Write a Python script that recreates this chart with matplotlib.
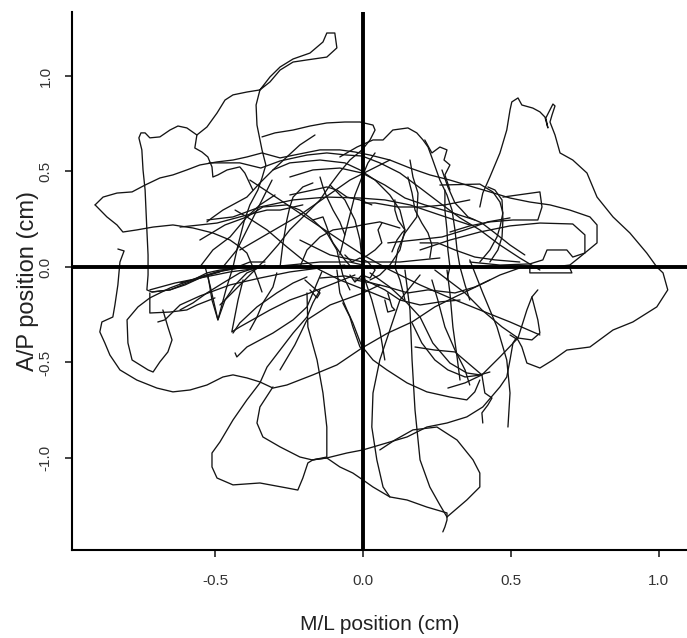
import matplotlib
matplotlib.use("Agg")
import matplotlib.pyplot as plt

# ---- axis ticks / labels ----
x_ticks = [-0.5, 0.0, 0.5, 1.0]
x_tick_labels = ["-0.5", "0.0", "0.5", "1.0"]
y_ticks = [-1.0, -0.5, 0.0, 0.5, 1.0]
y_tick_labels = ["-1.0", "-0.5", "0.0", "0.5", "1.0"]
x_label = "M/L position (cm)"
y_label = "A/P position (cm)"

# ---- centre-of-pressure trace (cm) ----
s01_x = [-0.372,-0.399,-0.416,-0.459,-0.490,-0.507,-0.510,-0.524,-0.544,-0.568,-0.561,-0.527,-0.493,-0.466,-0.439,-0.392,-0.348,-0.314,-0.280,-0.236,-0.179,-0.135,-0.122,-0.095,-0.088,-0.122,-0.189,-0.236,-0.280,-0.314,-0.348,-0.361,-0.358,-0.341,-0.328,-0.341,-0.355,-0.382,-0.402,-0.422,-0.439,-0.463,-0.490,-0.510,-0.524]
s01_y = [0.403,0.492,0.524,0.508,0.482,0.471,0.524,0.576,0.602,0.623,0.691,0.733,0.806,0.874,0.901,0.916,0.927,0.995,1.047,1.089,1.120,1.178,1.225,1.225,1.147,1.099,1.084,1.073,1.031,0.969,0.927,0.848,0.743,0.613,0.534,0.466,0.403,0.325,0.236,0.115,0.000,-0.120,-0.277,-0.173,-0.042]

s02_x = [-0.561,-0.595,-0.625,-0.652,-0.686,-0.720,-0.736,-0.750,-0.757,-0.747,-0.743,-0.736,-0.733,-0.730,-0.726,-0.726,-0.730,-0.713,-0.652,-0.601,-0.551,-0.493,-0.432,-0.382,-0.331]
s02_y = [0.691,0.728,0.738,0.717,0.681,0.676,0.702,0.702,0.676,0.613,0.508,0.403,0.298,0.194,0.063,-0.042,-0.120,-0.131,-0.120,-0.094,-0.058,-0.026,-0.005,0.026,0.026]

s03_x = [-0.905,-0.878,-0.831,-0.780,-0.736,-0.686,-0.642,-0.595,-0.551,-0.493,-0.439,-0.392,-0.341,-0.280,-0.213,-0.145,-0.078,-0.027,0.024,0.091,0.159,0.226,0.294,0.361,0.429,0.497,0.564,0.632,0.699,0.767,0.791,0.791,0.733,0.699,0.615,0.530]
s03_y = [0.325,0.366,0.387,0.393,0.429,0.466,0.482,0.508,0.534,0.550,0.560,0.576,0.597,0.571,0.592,0.613,0.613,0.602,0.586,0.560,0.518,0.482,0.455,0.424,0.393,0.361,0.340,0.325,0.298,0.262,0.220,0.126,0.052,0.010,-0.005,0.005]

s04_x = [-0.905,-0.865,-0.831,-0.811,-0.764,-0.709,-0.642,-0.574,-0.507,-0.449,-0.416,-0.392,-0.372,-0.355,-0.341]
s04_y = [0.325,0.262,0.220,0.183,0.194,0.209,0.220,0.204,0.178,0.141,0.105,0.073,0.000,-0.068,-0.131]

s05_x = [-0.341,-0.297,-0.236,-0.179,-0.122,-0.061,-0.010,0.034,0.041,0.024,-0.003,-0.044,-0.078,-0.111,-0.145,-0.196,-0.247,-0.287,-0.331,-0.382,-0.432,-0.483]
s05_y = [0.681,0.702,0.717,0.738,0.754,0.759,0.759,0.743,0.717,0.665,0.613,0.560,0.497,0.429,0.351,0.272,0.194,0.115,0.037,-0.042,-0.120,-0.199]

s06_x = [0.395,0.405,0.429,0.463,0.486,0.497,0.503,0.524,0.537,0.574,0.598,0.615,0.625,0.618,0.642,0.649,0.639,0.632,0.649,0.666,0.709,0.757,0.791,0.845,0.902,0.959,0.993,1.014,1.030,0.993,0.912,0.845,0.767,0.689,0.642,0.598,0.554,0.537,0.524,0.497]
s06_y = [0.314,0.387,0.471,0.597,0.717,0.822,0.864,0.885,0.848,0.832,0.812,0.785,0.728,0.780,0.853,0.843,0.796,0.759,0.691,0.597,0.560,0.492,0.366,0.262,0.178,0.073,0.000,-0.031,-0.120,-0.209,-0.288,-0.330,-0.419,-0.435,-0.487,-0.529,-0.503,-0.419,-0.382,-0.356]

s07_x = [0.260,0.395,0.439,0.463,0.473,0.463,0.453,0.429,0.395]
s07_y = [0.429,0.434,0.393,0.340,0.283,0.209,0.157,0.089,0.026]

s08_x = [0.473,0.598,0.605,0.591,0.507,0.429,0.361,0.294]
s08_y = [0.366,0.393,0.314,0.246,0.246,0.236,0.215,0.183]

s09_x = [0.193,0.294,0.395,0.497,0.598,0.709,0.750,0.750,0.709,0.689,0.622,0.608,0.564,0.463,0.361]
s09_y = [0.089,0.141,0.183,0.215,0.230,0.225,0.168,0.073,0.052,0.089,0.089,0.037,0.016,0.010,0.026]

s10_x = [0.564,0.699,0.706,0.564,0.564]
s10_y = [-0.005,-0.005,-0.031,-0.031,-0.005]

s11_x = [-0.078,-0.020,0.034,0.068,0.101,0.152,0.182,0.203,0.220,0.236,0.260,0.284,0.301,0.311,0.318,0.328,0.345,0.361]
s11_y = [0.576,0.628,0.665,0.665,0.717,0.728,0.702,0.665,0.628,0.560,0.455,0.377,0.298,0.194,0.089,0.000,-0.094,-0.173]

s12_x = [0.159,0.169,0.186,0.182,0.142,0.118,0.108,0.125,0.142]
s12_y = [0.560,0.471,0.387,0.262,0.178,0.089,0.000,-0.068,-0.173]

s13_x = [0.209,0.233,0.260,0.284,0.274,0.294,0.277,0.294]
s13_y = [0.665,0.597,0.628,0.613,0.560,0.534,0.482,0.403]

s14_x = [-0.520,-0.416,-0.345,-0.280,-0.189,-0.122,-0.054,-0.003,0.057,0.125,0.193,0.260,0.328,0.395,0.463,0.530,0.598]
s14_y = [0.545,0.545,0.518,0.555,0.586,0.597,0.586,0.581,0.545,0.492,0.414,0.335,0.257,0.194,0.115,0.047,-0.016]

s15_x = [-0.304,-0.247,-0.145,-0.061,-0.010,0.041,0.091,0.125,0.142,0.125,0.091,0.057,0.024]
s15_y = [0.508,0.545,0.560,0.545,0.508,0.455,0.377,0.298,0.194,0.089,0.010,-0.042,-0.068]

s16_x = [-0.247,-0.169,-0.078,-0.003,0.074,0.142,0.209,0.294,0.378]
s16_y = [0.471,0.508,0.518,0.492,0.429,0.361,0.325,0.288,0.246]

s17_x = [-0.527,-0.510,-0.473,-0.392,-0.348,-0.304,-0.257,-0.213,-0.162]
s17_y = [0.236,0.257,0.298,0.366,0.440,0.508,0.576,0.639,0.691]

s18_x = [-0.432,-0.392,-0.338,-0.257,-0.213,-0.169,-0.122,-0.088,-0.078,-0.068,-0.044]
s18_y = [0.298,0.262,0.314,0.325,0.298,0.246,0.178,0.089,0.021,-0.042,-0.120]

s19_x = [-0.551,-0.466,-0.392,-0.324,-0.257,-0.203,-0.145,-0.078,0.007,0.091]
s19_y = [0.141,0.220,0.262,0.194,0.105,0.037,-0.016,-0.068,-0.120,-0.173]

s20_x = [-0.527,-0.439,-0.348,-0.236,-0.122,-0.010,0.074,0.159,0.260,0.361]
s20_y = [0.246,0.262,0.314,0.351,0.366,0.361,0.351,0.325,0.272,0.220]

s21_x = [-0.382,-0.280,-0.179,-0.078,0.000,0.091,0.193,0.294,0.395,0.497,0.598]
s21_y = [0.455,0.351,0.246,0.141,0.063,-0.016,-0.094,-0.162,-0.225,-0.288,-0.356]

s22_x = [-0.111,-0.061,-0.027,-0.010,-0.003,0.007,0.030,0.057,0.074]
s22_y = [0.429,0.351,0.246,0.141,0.037,-0.068,-0.173,-0.330,-0.487]

s23_x = [-0.828,-0.807,-0.821,-0.828,-0.838,-0.845,-0.882,-0.889,-0.872,-0.855,-0.821,-0.764,-0.696,-0.642,-0.584,-0.527,-0.473,-0.439,-0.392,-0.348,-0.304,-0.257,-0.169,-0.088,-0.003,0.084,0.166,0.243,0.311,0.395,0.463,0.530]
s23_y = [0.094,0.084,0.026,-0.094,-0.199,-0.262,-0.288,-0.340,-0.398,-0.461,-0.539,-0.592,-0.634,-0.654,-0.644,-0.618,-0.576,-0.565,-0.581,-0.602,-0.634,-0.618,-0.565,-0.513,-0.424,-0.346,-0.288,-0.209,-0.157,-0.094,-0.042,-0.005]

s24_x = [-0.676,-0.659,-0.645,-0.659,-0.686,-0.709,-0.726,-0.780,-0.794,-0.797,-0.760,-0.720,-0.652,-0.551,-0.493,-0.416]
s24_y = [-0.225,-0.314,-0.382,-0.445,-0.497,-0.550,-0.539,-0.487,-0.398,-0.277,-0.209,-0.162,-0.110,-0.052,-0.026,-0.005]

s25_x = [-0.534,-0.517,-0.490,-0.466,-0.432,-0.392,-0.331]
s25_y = [0.005,-0.094,-0.277,-0.173,-0.094,-0.031,0.010]

s26_x = [-0.405,-0.422,-0.443,-0.416,-0.314,-0.247,-0.179,-0.095,-0.027]
s26_y = [-0.068,-0.173,-0.340,-0.314,-0.225,-0.173,-0.136,-0.084,-0.042]

s27_x = [-0.432,-0.426,-0.392,-0.304,-0.236,-0.189,-0.169,-0.155,-0.139]
s27_y = [-0.450,-0.471,-0.419,-0.346,-0.277,-0.209,-0.136,-0.084,-0.026]

s28_x = [-0.145,-0.169,-0.189,-0.236,-0.280,-0.324,-0.348,-0.392,-0.439,-0.483,-0.510,-0.510,-0.493,-0.439,-0.348,-0.257,-0.220,-0.203,-0.186,-0.169,-0.122,-0.078,-0.034,0.000,0.034,0.091,0.149,0.216,0.284,0.284,0.277,0.270]
s28_y = [-0.120,-0.188,-0.262,-0.346,-0.435,-0.524,-0.607,-0.696,-0.801,-0.916,-0.974,-1.047,-1.105,-1.141,-1.131,-1.157,-1.168,-1.105,-1.026,-1.010,-1.000,-1.047,-1.079,-1.115,-1.152,-1.204,-1.220,-1.257,-1.288,-1.325,-1.361,-1.387]

s29_x = [-0.304,-0.348,-0.358,-0.338,-0.280,-0.213,-0.172,-0.122,-0.054,0.000,0.057,0.149,0.216,0.284,0.351,0.405,0.463,0.486,0.497,0.507,0.520]
s29_y = [-0.628,-0.733,-0.817,-0.890,-0.942,-0.995,-1.010,-1.000,-0.974,-0.958,-0.932,-0.890,-0.838,-0.817,-0.785,-0.733,-0.628,-0.576,-0.487,-0.398,-0.367]

s30_x = [-0.189,-0.186,-0.155,-0.135,-0.122,-0.122,-0.169]
s30_y = [-0.136,-0.314,-0.487,-0.660,-0.838,-0.995,-1.010]

s31_x = [-0.068,-0.044,-0.034,-0.010,0.007,0.034,0.081,0.149,0.216,0.294,0.351,0.378,0.395]
s31_y = [-0.188,-0.262,-0.314,-0.419,-0.435,-0.487,-0.539,-0.607,-0.654,-0.681,-0.696,-0.654,-0.592]

s32_x = [0.024,0.091,0.149,0.193,0.236,0.294,0.351,0.395,0.429]
s32_y = [-0.031,-0.105,-0.188,-0.262,-0.398,-0.503,-0.555,-0.565,-0.550]

s33_x = [0.193,0.125,0.091,0.057,0.034,0.030,0.047,0.068,0.091]
s33_y = [-0.042,-0.173,-0.330,-0.487,-0.660,-0.838,-1.010,-1.152,-1.204]

s34_x = [0.142,0.159,0.166,0.176,0.193,0.226,0.260,0.284]
s34_y = [-0.016,-0.225,-0.487,-0.749,-1.010,-1.152,-1.246,-1.309]

s35_x = [0.284,0.294,0.304,0.318,0.328]
s35_y = [-0.016,-0.136,-0.314,-0.471,-0.592]

s36_x = [0.361,0.405,0.453,0.486,0.497,0.490]
s36_y = [0.037,-0.136,-0.314,-0.487,-0.660,-0.838]

s37_x = [0.284,0.351,0.395,0.395,0.372,0.318,0.250,0.169,0.108,0.057]
s37_y = [-1.309,-1.220,-1.152,-1.079,-1.010,-0.906,-0.838,-0.853,-0.906,-0.958]

s38_x = [0.243,0.287,0.345,0.402,0.470,0.524,0.571,0.598,0.591,0.571,0.591]
s38_y = [-0.016,-0.068,-0.136,-0.225,-0.314,-0.372,-0.382,-0.346,-0.277,-0.157,-0.120]

s39_x = [0.287,0.345,0.402,0.463,0.524,0.554,0.571]
s39_y = [-0.634,-0.607,-0.565,-0.471,-0.372,-0.225,-0.157]

s40_x = [0.402,0.412,0.436,0.422,0.402,0.405]
s40_y = [-0.565,-0.660,-0.686,-0.723,-0.764,-0.817]

s41_x = [0.176,0.243,0.311,0.402]
s41_y = [-0.419,-0.435,-0.445,-0.565]

s42_x = [-0.145,-0.061,0.007,0.074,0.125,0.193,0.260,0.328]
s42_y = [-0.058,-0.047,-0.068,-0.120,-0.173,-0.199,-0.183,-0.173]

s43_x = [-0.280,-0.230,-0.189,-0.111,0.000,0.057]
s43_y = [-0.539,-0.408,-0.277,-0.199,-0.136,-0.094]

s44_x = [-0.720,-0.635,-0.551,-0.449,-0.348,-0.247,-0.145,-0.044,0.000]
s44_y = [-0.120,-0.084,-0.058,-0.026,-0.005,0.010,0.026,0.026,0.010]

s45_x = [-0.720,-0.720,-0.652,-0.595,-0.561,-0.500]
s45_y = [-0.136,-0.241,-0.236,-0.225,-0.199,-0.162]

s46_x = [-0.693,-0.669,-0.618,-0.551,-0.449,-0.348,-0.247,-0.145,-0.061]
s46_y = [-0.288,-0.277,-0.199,-0.152,-0.094,-0.058,-0.026,-0.005,0.010]

s47_x = [-0.618,-0.551,-0.493,-0.392,-0.324,-0.280,-0.203]
s47_y = [0.209,0.220,0.230,0.272,0.298,0.298,0.325]

s48_x = [-0.551,-0.507,-0.449,-0.392,-0.348,-0.297]
s48_y = [0.000,0.089,0.157,0.262,0.325,0.377]

s49_x = [-0.473,-0.426,-0.392,-0.358,-0.324,-0.307]
s49_y = [0.000,0.089,0.194,0.298,0.403,0.455]

s50_x = [-0.280,-0.270,-0.257,-0.247,-0.236,-0.203,-0.169]
s50_y = [0.000,0.126,0.246,0.314,0.366,0.419,0.440]

s51_x = [-0.247,-0.169,-0.122,-0.088,-0.054,-0.010,0.030]
s51_y = [0.377,0.403,0.419,0.403,0.366,0.351,0.325]

s52_x = [-0.169,-0.135,-0.122,-0.111,-0.101,-0.084,-0.061,-0.037]
s52_y = [0.246,0.262,0.209,0.157,0.126,0.089,0.037,-0.005]

s53_x = [-0.145,-0.135,-0.122,-0.101,-0.078,-0.061]
s53_y = [0.471,0.419,0.366,0.298,0.236,0.168]

s54_x = [-0.213,-0.189,-0.145,-0.101,-0.034,-0.003,0.057,0.125]
s54_y = [0.000,0.089,0.157,0.194,0.209,0.220,0.236,0.204]

s55_x = [0.152,0.166,0.176,0.199,0.220,0.233,0.226]
s55_y = [0.471,0.387,0.298,0.230,0.178,0.115,0.047]

s56_x = [0.108,0.108,0.118,0.142,0.132,0.115,0.098]
s56_y = [0.351,0.298,0.246,0.194,0.178,0.141,0.079]

s57_x = [0.267,0.287,0.311,0.334,0.355,0.402,0.446,0.497,0.547]
s57_y = [0.508,0.419,0.335,0.298,0.262,0.230,0.178,0.115,0.063]

s58_x = [0.084,0.176,0.267,0.345,0.422,0.497]
s58_y = [0.126,0.141,0.157,0.194,0.236,0.257]

s59_x = [0.193,0.253,0.311,0.378,0.446,0.530]
s59_y = [0.126,0.126,0.089,0.052,0.037,0.026]

s60_x = [0.064,0.051,0.064,0.041,0.007]
s60_y = [0.230,0.194,0.126,0.089,0.052]

s61_x = [0.422,0.446,0.470,0.473,0.470,0.456,0.429]
s61_y = [0.419,0.403,0.351,0.246,0.157,0.089,0.026]

s62_x = [0.277,0.277,0.284,0.287,0.294,0.284]
s62_y = [0.403,0.298,0.194,0.089,0.000,-0.068]

s63_x = [-0.027,0.030,0.084,0.152,0.220,0.311,0.378,0.429]
s63_y = [-0.068,-0.084,-0.105,-0.136,-0.120,-0.136,-0.105,-0.068]

s64_x = [0.084,0.098,0.108,0.084,0.074]
s64_y = [-0.136,-0.209,-0.225,-0.236,-0.173]

s65_x = [0.233,0.253,0.277,0.311,0.345,0.361]
s65_y = [-0.068,-0.173,-0.314,-0.435,-0.539,-0.618]

s66_x = [0.166,0.199,0.243,0.287,0.345,0.402]
s66_y = [-0.293,-0.398,-0.487,-0.539,-0.576,-0.565]

s67_x = [-0.618,-0.574,-0.527,-0.483,-0.416]
s67_y = [-0.084,-0.068,-0.031,-0.016,-0.005]

s68_x = [-0.618,-0.574,-0.527,-0.473,-0.416,-0.365]
s68_y = [-0.225,-0.188,-0.136,-0.084,-0.031,-0.005]

s69_x = [-0.291,-0.304,-0.338,-0.358,-0.382]
s69_y = [-0.031,-0.105,-0.188,-0.262,-0.330]

s70_x = [-0.196,-0.169,-0.145,-0.155,-0.179]
s70_y = [-0.068,-0.105,-0.136,-0.162,-0.120]

s71_x = [-0.088,-0.078,-0.054,-0.034,-0.003]
s71_y = [-0.016,-0.136,-0.225,-0.293,-0.419]

s72_x = [-0.713,-0.652,-0.595,-0.541,-0.483]
s72_y = [-0.131,-0.120,-0.084,-0.052,-0.026]

s73_x = [-0.439,-0.416,-0.358,-0.291,-0.236,-0.189]
s73_y = [-0.346,-0.293,-0.209,-0.136,-0.084,-0.052]

s74_x = [-0.061,-0.037,-0.010,0.017,0.041,0.024,-0.003,-0.027,-0.044]
s74_y = [0.063,0.026,0.047,0.026,-0.016,-0.058,-0.042,-0.079,-0.042]

s75_x = [0.041,0.017,-0.003,-0.027,-0.044,-0.061,-0.078]
s75_y = [0.597,0.545,0.471,0.377,0.272,0.168,0.063]

s76_x = [-0.003,0.041,0.118,0.199,0.277,0.361]
s76_y = [0.335,0.335,0.314,0.314,0.325,0.351]

s77_x = [-0.416,-0.213,-0.044,0.091]
s77_y = [0.089,0.272,0.455,0.560]

s78_x = [-0.213,-0.111,0.000,0.125,0.260]
s78_y = [0.141,0.063,0.026,0.026,0.047]

strokes = [
    (s01_x, s01_y), (s02_x, s02_y), (s03_x, s03_y), (s04_x, s04_y), (s05_x, s05_y),
    (s06_x, s06_y), (s07_x, s07_y), (s08_x, s08_y), (s09_x, s09_y), (s10_x, s10_y),
    (s11_x, s11_y), (s12_x, s12_y), (s13_x, s13_y), (s14_x, s14_y), (s15_x, s15_y),
    (s16_x, s16_y), (s17_x, s17_y), (s18_x, s18_y), (s19_x, s19_y), (s20_x, s20_y),
    (s21_x, s21_y), (s22_x, s22_y), (s23_x, s23_y), (s24_x, s24_y), (s25_x, s25_y),
    (s26_x, s26_y), (s27_x, s27_y), (s28_x, s28_y), (s29_x, s29_y), (s30_x, s30_y),
    (s31_x, s31_y), (s32_x, s32_y), (s33_x, s33_y), (s34_x, s34_y), (s35_x, s35_y),
    (s36_x, s36_y), (s37_x, s37_y), (s38_x, s38_y), (s39_x, s39_y), (s40_x, s40_y),
    (s41_x, s41_y), (s42_x, s42_y), (s43_x, s43_y), (s44_x, s44_y), (s45_x, s45_y),
    (s46_x, s46_y), (s47_x, s47_y), (s48_x, s48_y), (s49_x, s49_y), (s50_x, s50_y),
    (s51_x, s51_y), (s52_x, s52_y), (s53_x, s53_y), (s54_x, s54_y), (s55_x, s55_y),
    (s56_x, s56_y), (s57_x, s57_y), (s58_x, s58_y), (s59_x, s59_y), (s60_x, s60_y),
    (s61_x, s61_y), (s62_x, s62_y), (s63_x, s63_y), (s64_x, s64_y), (s65_x, s65_y),
    (s66_x, s66_y), (s67_x, s67_y), (s68_x, s68_y), (s69_x, s69_y), (s70_x, s70_y),
    (s71_x, s71_y), (s72_x, s72_y), (s73_x, s73_y), (s74_x, s74_y), (s75_x, s75_y),
    (s76_x, s76_y), (s77_x, s77_y), (s78_x, s78_y),
]

plt.rcParams['font.family'] = ['Liberation Sans', 'DejaVu Sans']

fig = plt.figure(figsize=(6.87, 6.38), dpi=100)
ax = fig.add_axes([0.1048, 0.1379, 0.8952, 0.8433])

for sx, sy in strokes:
    ax.plot(sx, sy, color='#141414', lw=0.95, solid_joinstyle='round', solid_capstyle='round')

ax.axhline(0, color='black', lw=2.8, zorder=5)
ax.axvline(0, color='black', lw=2.8, zorder=5)

ax.set_xlim(-0.983, 1.095)
ax.set_ylim(-1.482, 1.335)

ax.spines['top'].set_visible(False)
ax.spines['right'].set_visible(False)
for sp in ('left', 'bottom'):
    ax.spines[sp].set_linewidth(1.5)

ax.set_xticks(x_ticks)
ax.set_xticklabels(x_tick_labels, fontsize=11, color='#333333')
ax.set_yticks(y_ticks)
ax.set_yticklabels(y_tick_labels, fontsize=11, color='#333333', rotation=90, va='center')
ax.tick_params(axis='both', length=5, width=1.2, color='#222222')
ax.tick_params(axis='x', pad=12)
ax.tick_params(axis='y', pad=9)

ax.set_xlabel(x_label, fontsize=15, color='#222222', labelpad=20)
ax.set_ylabel(y_label, fontsize=17, color='#222222', labelpad=0)

fig.savefig('out.png', dpi=100)
